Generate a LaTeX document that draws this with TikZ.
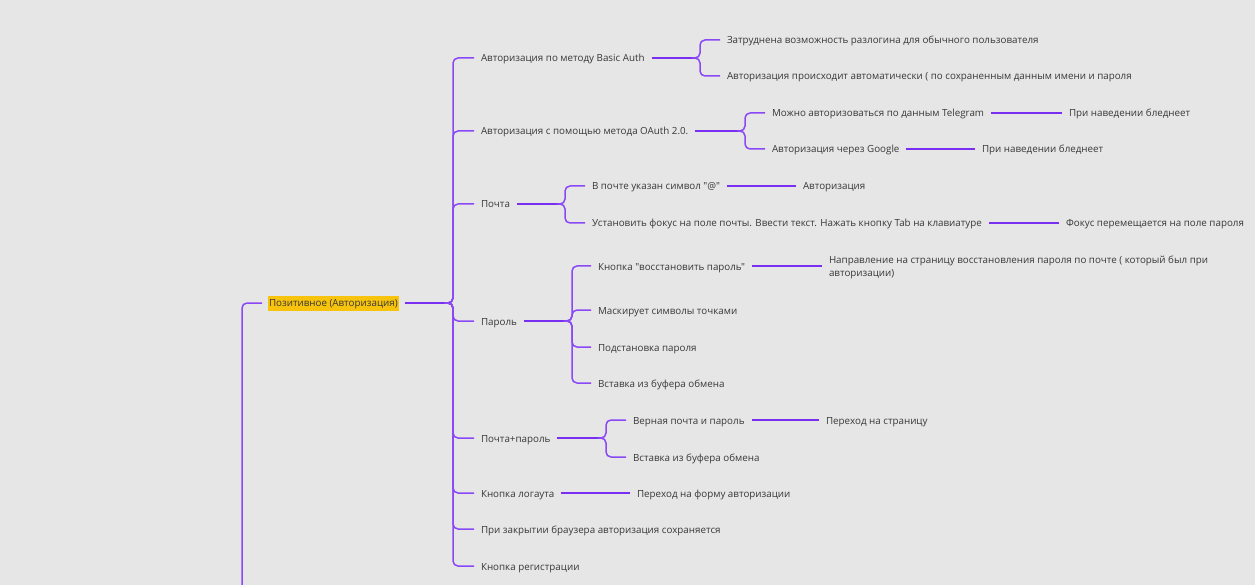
\documentclass[tikz,border=0pt]{standalone}
\usepackage{fontspec}
\newfontfamily\fuente{Open Sans}

\definecolor{fondo}{HTML}{E6E6E6}
\definecolor{morado}{HTML}{7A2EF2}
\definecolor{lila}{HTML}{8A48F6}
\definecolor{amarillo}{HTML}{F7C30C}
\definecolor{tinta}{HTML}{383838}

\begin{document}
\begin{tikzpicture}[x=1pt, y=-1pt,
    txt/.style={anchor=west, inner xsep=0, inner ysep=1, outer xsep=7,
        text height=10, text depth=2, text=tinta, font=\fuente\fontsize{9.8}{13}\selectfont},
    nota/.style={anchor=west, inner sep=0, outer xsep=7, align=left,
        text=tinta, font=\fuente\fontsize{9.8}{13.5}\selectfont},
    tronco/.style={morado, line width=1.8},
    rama/.style={lila, line width=1.5, rounded corners=5}]

    \fill[fondo] (0,0) rectangle (1255,585);
    \useasboundingbox (0,0) rectangle (1255,585);

    \node[txt, fill=amarillo, inner xsep=1.5, inner ysep=2, text height=9, outer xsep=5.5] (pos) at (262,303) {Позитивное (Авторизация)};
    \coordinate (abajo) at (242,585);
    \coordinate (jmain) at (450,303);

    %ramas principales
    \node[txt] (basic) at (474,58) {Авторизация по методу Basic Auth};
    \node[txt] (oauth) at (474,131) {Авторизация с помощью метода OAuth 2.0.};
    \node[txt] (mail) at (474,204) {Почта};
    \node[txt] (pass) at (474,321) {Пароль};
    \node[txt] (mailpass) at (474,438) {Почта+пароль};
    \node[txt] (logout) at (474,493) {Кнопка логаута};
    \node[txt] (close) at (474,529) {При закрытии браузера авторизация сохраняется};
    \node[txt] (reg) at (474,566) {Кнопка регистрации};

    %Basic Auth
    \coordinate (jbasic) at (697,58);
    \node[txt] (basic1) at (720,40) {Затруднена возможность разлогина для обычного пользователя};
    \node[txt] (basic2) at (720,76) {Авторизация происходит автоматически ( по сохраненным данным имени и пароля};

    %OAuth
    \coordinate (joauth) at (742,131);
    \node[txt] (tg) at (765,113) {Можно авторизоваться по данным Telegram};
    \node[txt] (tgH) at (1062,113) {При наведении бледнеет};
    \node[txt] (google) at (765,149) {Авторизация через Google};
    \node[txt] (googleH) at (975,149) {При наведении бледнеет};

    %Почта
    \coordinate (jmail) at (562,204);
    \node[txt] (arroba) at (585,186) {В почте указан символ "@"};
    \node[txt] (arrobaH) at (796,186) {Авторизация};
    \node[txt] (tab) at (585,223) {Установить фокус на поле почты. Ввести текст. Нажать кнопку Tab на клавиатуре};
    \node[txt] (tabH) at (1059,223) {Фокус перемещается на поле пароля};

    %Пароль
    \coordinate (jpass) at (569,321);
    \node[txt] (restore) at (591,266) {Кнопка "восстановить пароль"};
    \node[nota] (restoreH) at (822,267.5) {Направление на страницу восстановления пароля по почте ( который был при\\авторизации)};
    \node[txt] (mask) at (591,310) {Маскирует символы точками};
    \node[txt] (subst) at (591,347) {Подстановка пароля};
    \node[txt] (paste) at (591,383) {Вставка из буфера обмена};

    %Почта+пароль
    \coordinate (jmailpass) at (603,438);
    \node[txt] (right) at (626,420) {Верная почта и пароль};
    \node[txt] (rightH) at (819,420) {Переход на страницу};
    \node[txt] (paste2) at (626,457) {Вставка из буфера обмена};

    \node[txt] (logoutH) at (630,493) {Переход на форму авторизации};


    %conectores
    \draw[rama] (abajo) |- (pos.west);
    \draw[tronco] (pos) -- (jmain);

    \foreach \hijo in {basic,oauth,mail,pass,mailpass,logout,close,reg}{

    \draw[rama] (jmain) -- ++(3,0) |- (\hijo.west);}

    \draw[tronco] (basic) -- (jbasic);
    \foreach \hijo in {basic1,basic2}{
    \draw[rama] (jbasic) -- ++(3,0) |- (\hijo.west);}

    \draw[tronco] (oauth) -- (joauth);
    \foreach \hijo in {tg,google}{
    \draw[rama] (joauth) -- ++(3,0) |- (\hijo.west);}

    \draw[tronco] (mail) -- (jmail);
    \foreach \hijo in {arroba,tab}{
    \draw[rama] (jmail) -- ++(3,0) |- (\hijo.west);}

    \draw[tronco] (pass) -- (jpass);
    \foreach \hijo in {restore,mask,subst,paste}{
    \draw[rama] (jpass) -- ++(3,0) |- (\hijo.west);}

    \draw[tronco] (mailpass) -- (jmailpass);
    \foreach \hijo in {right,paste2}{
    \draw[rama] (jmailpass) -- ++(3,0) |- (\hijo.west);}

    %hojas
    \draw[tronco] (tg) -- (tgH);
    \draw[tronco] (google) -- (googleH);
    \draw[tronco] (arroba) -- (arrobaH);
    \draw[tronco] (tab) -- (tabH);
    \draw[tronco] (restore) -- (restoreH.west |- restore);
    \draw[tronco] (right) -- (rightH);
    \draw[tronco] (logout) -- (logoutH);

\end{tikzpicture}
\end{document}
